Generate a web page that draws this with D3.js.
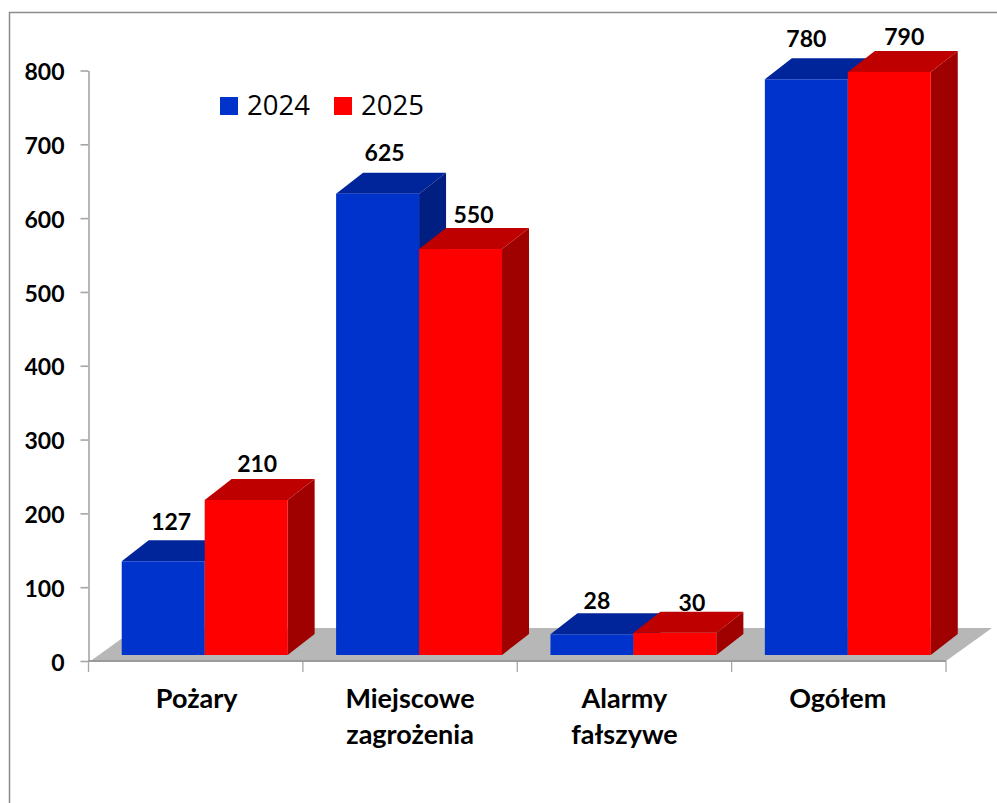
<!DOCTYPE html>
<html><head><meta charset="utf-8">
<script src="https://cdn.jsdelivr.net/npm/d3@7"></script>
<style>html,body{margin:0;padding:0;background:#fff}svg{display:block}</style>
</head><body><div id="c"></div>
<script>
const categories = [["Pożary"], ["Miejscowe", "zagrożenia"], ["Alarmy", "fałszywe"], ["Ogółem"]];
const seriesNames = ["2024", "2025"];
const values2024 = [127, 625, 28, 780];
const values2025 = [210, 550, 30, 790];
const yTicks = [0, 100, 200, 300, 400, 500, 600, 700, 800];

const W = 997, H = 803;
const front = ["#0033cc", "#ff0000"], topC = ["#002499", "#bf0000"], sideC = ["#001f80", "#9f0000"];
const depth = {x: 27, y: 21};
const floorDepth = {x: 46, y: 33};
const barLift = 6, barShift = 9;
// hand-placed label nudges as in the original (dx from bar centre, dy from back top edge)
const nudge2024 = [[8, -19], [7, -21], [5, -13], [0, -20]];
const nudge2025 = [[11, -16], [13, -14], [17, -10], [15, -15]];
const catNudge = [1, 0, 0, -1];

const svg = d3.select("#c").append("svg").attr("width", W).attr("height", H);
svg.append("rect").attr("width", W).attr("height", H).attr("fill", "#fff");

const y = d3.scaleLinear().domain([0, 800]).range([661, 70.5]);
const x0 = d3.scaleBand().domain(d3.range(categories.length)).range([88.5, 946]).paddingInner(0.226).paddingOuter(0.113);
const x1 = d3.scaleBand().domain([0, 1]).range([0, x0.bandwidth()]);

// frame
svg.append("path").attr("d", `M9.5 ${H}V12.5H${W}`).attr("fill", "none").attr("stroke", "#8c8c8c").attr("stroke-width", 1.5);

// floor
const y0 = y(0), xL = x0.range()[0], xR = x0.range()[1];
svg.append("path").attr("fill", "#b7b7b7")
  .attr("d", `M${xL + 2} ${y0}L${xL + 2 + floorDepth.x} ${y0 - floorDepth.y}H${xR + floorDepth.x}L${xR} ${y0}Z`);

// axes
const font = "Lato, Carlito, sans-serif";
const yAxis = d3.axisLeft(y).tickValues(yTicks).tickSize(8).tickPadding(16).tickSizeOuter(0);
const gy = svg.append("g").attr("transform", `translate(${xL},0)`).call(yAxis);
gy.selectAll("path,line").attr("stroke", "#a6a6a6").attr("stroke-width", 1.6);
gy.selectAll("text").attr("font-family", font).attr("font-weight", 700).attr("font-size", 23).attr("fill", "#000")
  .attr("dy", "0.4em");

const xTickVals = d3.range(categories.length + 1).map(i => xL + i * x0.step());
svg.append("g").selectAll("line").data(xTickVals).join("line")
  .attr("x1", d => d).attr("x2", d => d).attr("y1", y0).attr("y2", y0 + 11)
  .attr("stroke", "#a6a6a6").attr("stroke-width", 1.3);
svg.append("line").attr("x1", xL).attr("x2", xR).attr("y1", y0).attr("y2", y0)
  .attr("stroke", "#9a9a9a").attr("stroke-width", 2);

// bars
const all = [values2024, values2025];
const base = y0 - barLift;
categories.forEach((c, i) => {
  [0, 1].forEach(s => {
    const l = x0(i) + barShift + x1(s), r = l + x1.bandwidth();
    const t = y(all[s][i]) - barLift;
    const g = svg.append("g");
    g.append("path").attr("fill", sideC[s])
      .attr("d", `M${r} ${t}L${r + depth.x} ${t - depth.y}V${base - depth.y}L${r} ${base}Z`);
    g.append("path").attr("fill", topC[s])
      .attr("d", `M${l} ${t}L${l + depth.x} ${t - depth.y}H${r + depth.x}L${r} ${t}Z`);
    g.append("rect").attr("x", l).attr("y", t).attr("width", r - l).attr("height", base - t).attr("fill", front[s]);
  });
});

// value labels
categories.forEach((c, i) => {
  [0, 1].forEach(s => {
    const n = (s ? nudge2025 : nudge2024)[i];
    svg.append("text")
      .attr("x", x0(i) + barShift + x1(s) + x1.bandwidth() / 2 + n[0])
      .attr("y", y(all[s][i]) - barLift - depth.y + n[1])
      .attr("text-anchor", "middle").attr("dominant-baseline", "central")
      .attr("font-family", font).attr("font-weight", 700).attr("font-size", 23).attr("fill", "#000")
      .text(all[s][i]);
  });
});

// category labels
categories.forEach((lines, i) => {
  const t = svg.append("text").attr("text-anchor", "middle")
    .attr("font-family", font).attr("font-weight", 700).attr("font-size", 27).attr("fill", "#000");
  lines.forEach((ln, k) => t.append("tspan")
    .attr("x", x0(i) + x0.bandwidth() / 2 + catNudge[i])
    .attr("y", 708 + k * 36).text(ln));
});

// legend
const legX = [220, 334];
seriesNames.forEach((n, s) => {
  svg.append("rect").attr("x", legX[s]).attr("y", 97).attr("width", 18).attr("height", 18).attr("fill", front[s]);
  svg.append("text").attr("x", legX[s] + 27).attr("y", 115)
    .attr("font-family", "'Open Sans', sans-serif").attr("font-size", 27.5).attr("fill", "#000").text(n);
});
</script></body></html>
